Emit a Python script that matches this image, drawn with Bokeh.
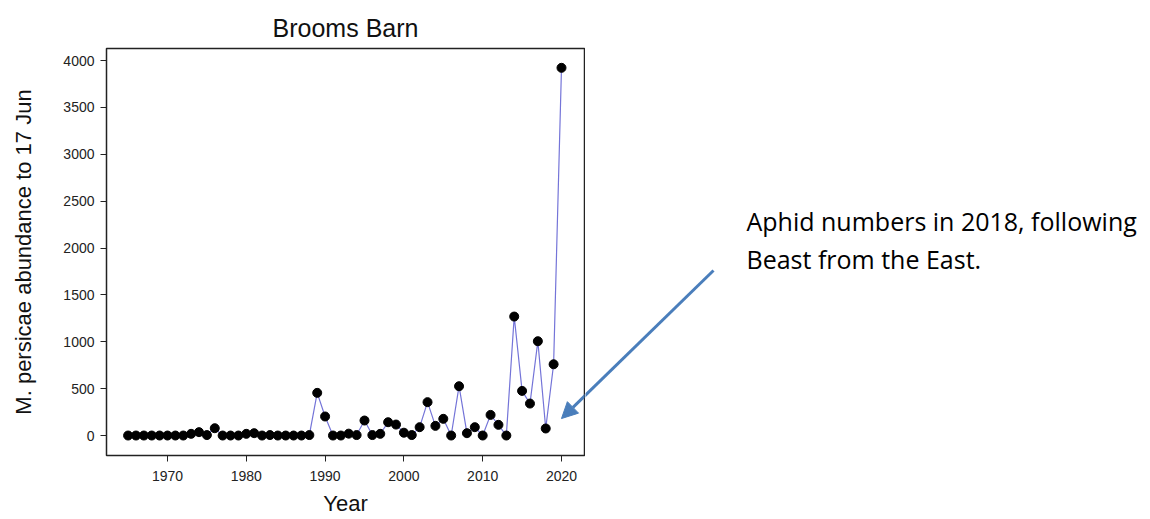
from bokeh.plotting import figure
from bokeh.layouts import row
from bokeh.models import Range1d, FixedTicker, Label, Arrow, NormalHead, ColumnDataSource
from bokeh.embed import file_html
from bokeh.resources import INLINE

years = [1965, 1966, 1967, 1968, 1969, 1970, 1971, 1972, 1973, 1974,
         1975, 1976, 1977, 1978, 1979, 1980, 1981, 1982, 1983, 1984,
         1985, 1986, 1987, 1988, 1989, 1990, 1991, 1992, 1993, 1994,
         1995, 1996, 1997, 1998, 1999, 2000, 2001, 2002, 2003, 2004,
         2005, 2006, 2007, 2008, 2009, 2010, 2011, 2012, 2013, 2014,
         2015, 2016, 2017, 2018, 2019, 2020]
abundance = [0, 0, 0, 0, 0, 0, 0, 0, 18, 36,
             5, 78, 0, 0, 0, 18, 25, 0, 5, 0,
             0, 0, 0, 5, 455, 203, 0, 0, 20, 5,
             160, 5, 18, 142, 117, 30, 5, 89, 356, 103,
             178, 0, 526, 25, 89, 0, 220, 114, 0, 1269,
             476, 341, 1006, 75, 760, 3922]
x_ticks = [1970, 1980, 1990, 2000, 2010, 2020]
y_ticks = [0, 500, 1000, 1500, 2000, 2500, 3000, 3500, 4000]

title_text = "Brooms Barn"
x_label = "Year"
y_label = "M. persicae abundance to 17 Jun"
note_line1 = "Aphid numbers in 2018, following"
note_line2 = "Beast from the East."

FONT = "Liberation Sans"
ARROW_COLOR = "#4a7ebb"
H = 519
W1 = 585
W2 = 555
FRAME_TOP = 48
FRAME_BOTTOM = 455

src = ColumnDataSource(dict(year=years, n=abundance))

p = figure(width=W1, height=H, output_backend="svg", toolbar_location=None,
           x_range=Range1d(1962.26, 2022.92), y_range=Range1d(-213, 4128),
           min_border_left=106, min_border_right=1, min_border_top=FRAME_TOP,
           min_border_bottom=H - FRAME_BOTTOM, title=title_text)

p.title.text_font = FONT
p.title.text_font_size = "25px"
p.title.text_font_style = "normal"
p.title.align = "center"
p.title.text_color = "#111111"
p.title.standoff = 13

p.grid.visible = False
p.outline_line_color = "#222222"
p.outline_line_width = 1.5
p.background_fill_color = "white"
p.border_fill_color = "white"

p.xaxis.ticker = FixedTicker(ticks=x_ticks)
p.yaxis.ticker = FixedTicker(ticks=y_ticks)
for ax in (p.xaxis, p.yaxis):
    ax.minor_tick_line_color = None
    ax.major_tick_out = 6
    ax.major_tick_in = 0
    ax.major_tick_line_color = "#222222"
    ax.axis_line_color = "#222222"
    ax.major_label_text_font = FONT
    ax.major_label_text_font_size = "14px"
    ax.major_label_text_color = "#222222"
    ax.axis_label_text_font = FONT
    ax.axis_label_text_font_size = "22px"
    ax.axis_label_text_font_style = "normal"
    ax.axis_label_text_color = "#111111"
p.xaxis.major_label_standoff = 9
p.yaxis.major_label_standoff = 6

p.yaxis.axis_label = y_label
p.yaxis.axis_label_standoff = 24
p.xaxis.axis_label = x_label
p.xaxis.axis_label_standoff = 7

p.line("year", "n", source=src, line_color="#7474d8", line_width=1.2)
p.scatter("year", "n", source=src, size=9, fill_color="black", line_color="black")

# arrow head part inside the plot frame (clipped at the frame edge)
p.add_layout(Arrow(x_start=2039.3, y_start=1760, x_end=2020.0, y_end=181,
                   line_color=ARROW_COLOR, line_width=3,
                   end=NormalHead(size=16, fill_color=ARROW_COLOR, line_color=ARROW_COLOR)))

# annotation panel to the right, in page-pixel coordinates (frame aligned with the plot frame)
q = figure(width=W2, height=H, output_backend="svg", toolbar_location=None,
           x_range=Range1d(W1, W1 + W2), y_range=Range1d(FRAME_BOTTOM, FRAME_TOP),
           min_border_left=0, min_border_right=0, min_border_top=FRAME_TOP,
           min_border_bottom=H - FRAME_BOTTOM)
q.axis.visible = False
q.grid.visible = False
q.outline_line_color = None
q.background_fill_color = "white"
q.border_fill_color = "white"

q.add_layout(Label(x=746, y=220, text=note_line1, text_align="left", text_baseline="alphabetic",
                   text_font="Open Sans", text_font_size="25px", text_color="black"))
q.add_layout(Label(x=746, y=258, text=note_line2, text_align="left", text_baseline="alphabetic",
                   text_font="Open Sans", text_font_size="25px", text_color="black"))
q.add_layout(Arrow(x_start=713, y_start=270, x_end=561, y_end=418, end=None,
                   line_color=ARROW_COLOR, line_width=3))

layout = row(p, q, spacing=0)
open("out.html", "w").write(file_html(layout, INLINE))
